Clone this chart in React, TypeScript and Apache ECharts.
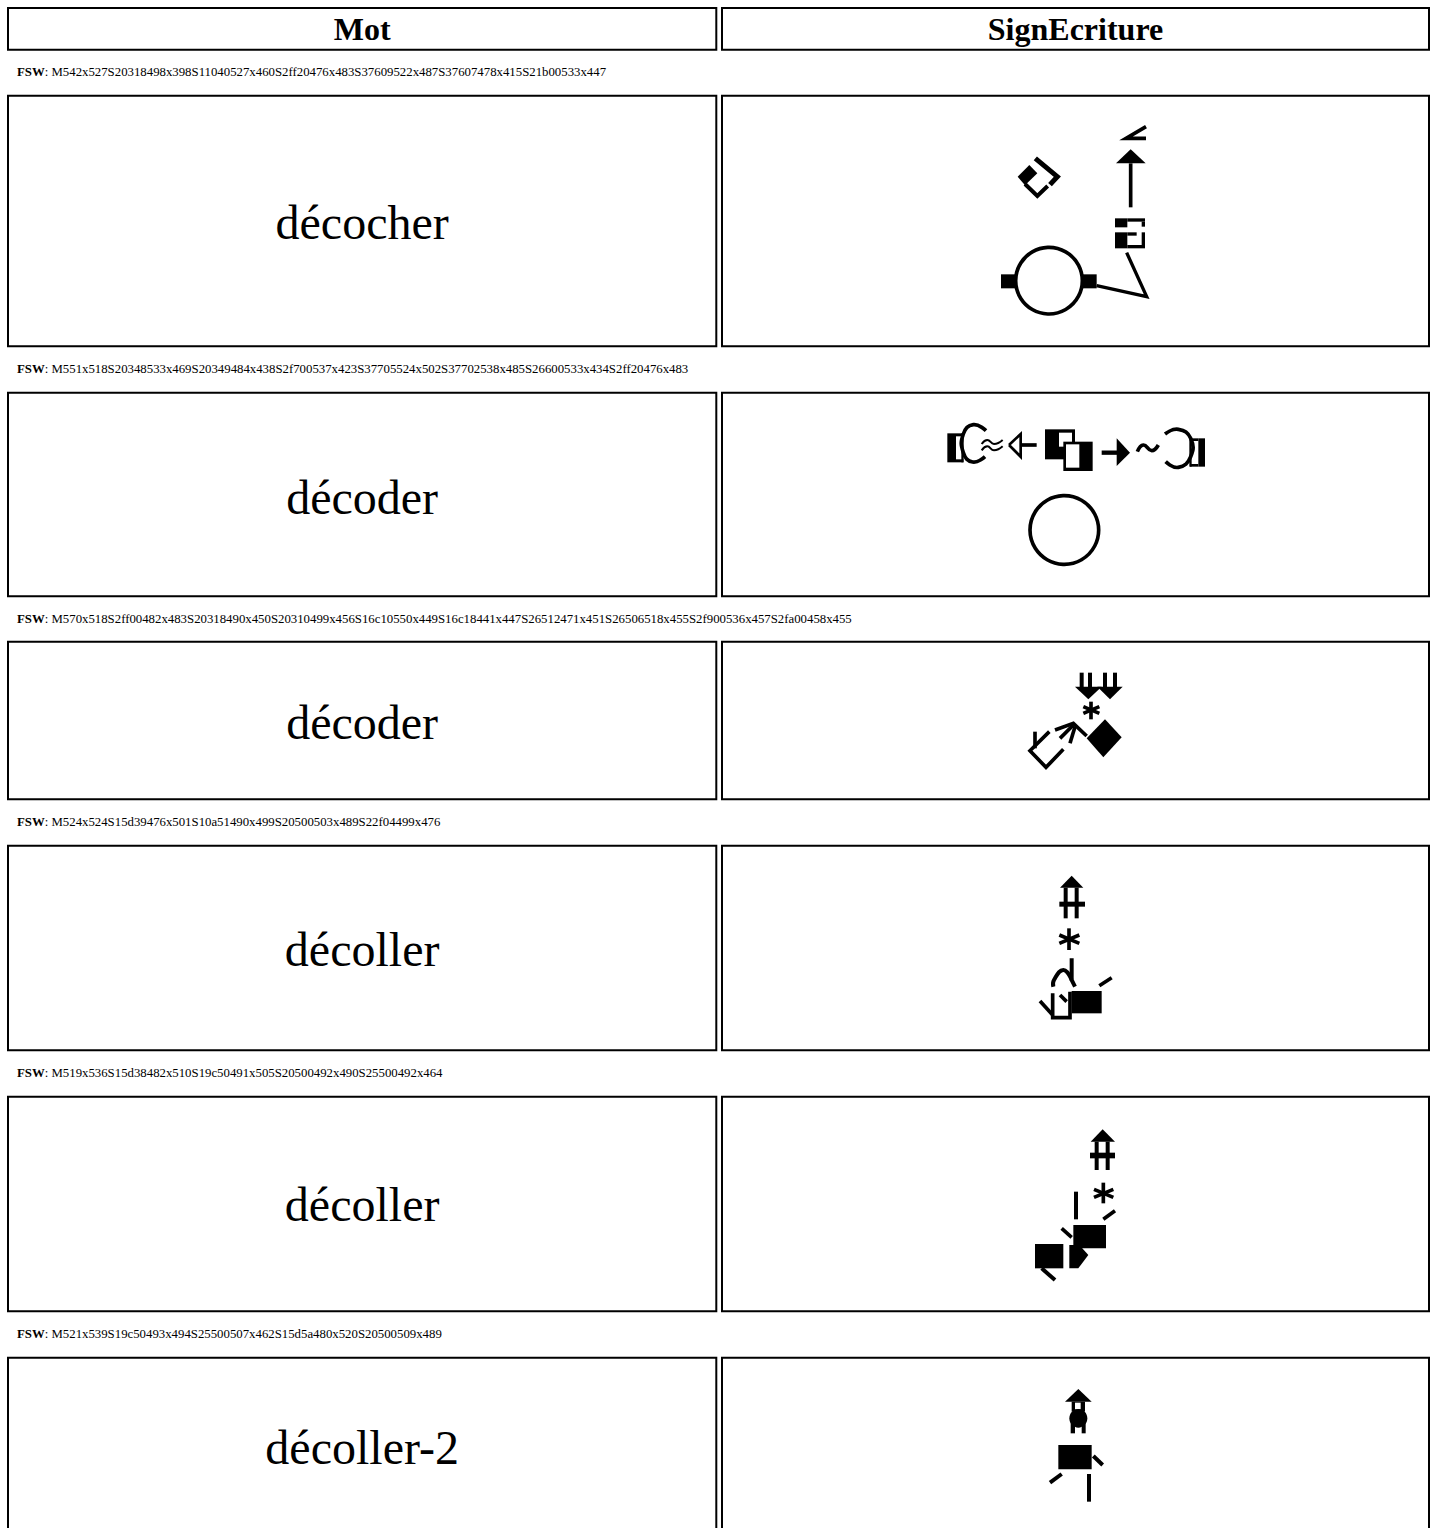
import React, { useEffect, useRef } from "react";
import * as echarts from "echarts";

const headers = ["Mot", "SignEcriture"];
const words = ["décocher", "décoder", "décoder", "décoller", "décoller", "décoller-2"];
const fswCodes = [
  "M542x527S20318498x398S11040527x460S2ff20476x483S37609522x487S37607478x415S21b00533x447",
  "M551x518S20348533x469S20349484x438S2f700537x423S37705524x502S37702538x485S26600533x434S2ff20476x483",
  "M570x518S2ff00482x483S20318490x450S20310499x456S16c10550x449S16c18441x447S26512471x451S26506518x455S2f900536x457S2fa00458x455",
  "M524x524S15d39476x501S10a51490x499S20500503x489S22f04499x476",
  "M519x536S15d38482x510S19c50491x505S20500492x490S25500492x464",
  "M521x539S19c50493x494S25500507x462S15d5a480x520S20500509x489",
];

// page layout
const colX: [number, number][] = [[7, 717.3], [721, 1430]];
const headerY: [number, number] = [7, 50.7];
const rowY: [number, number][] = [[94.7, 347.3], [391.7, 597.3], [640.7, 800.3], [844.7, 1051.3], [1095.7, 1312.3], [1356.7, 1560]];
const fswY = [72, 369, 619, 822, 1073, 1334];
const wordY = [222, 497, 722, 949, 1204, 1447];
const serif = '"Liberation Serif", "Times New Roman", serif';

type Op =
  | ["P", number[][]]
  | ["L", number[][], number]
  | ["S", number[][], number]
  | ["R", number, number, number, number, string?]
  | ["C", number, number, number, number]
  | ["E", number, number, number, number];

// SignWriting symbols, traced in 3x crop units from each origin
const glyphs: { o: [number, number]; ops: Op[] }[] = [
  {
    o: [980, 110],
    ops: [
      ["P", [[113, 200], [148, 165], [172, 190], [135, 226]]],
      ["L", [[166, 145], [232, 200], [210, 224]], 15],
      ["L", [[135, 222], [172, 258], [203, 228]], 12],
      ["L", [[498, 50], [438, 85], [498, 85]], 11],
      ["P", [[408, 160], [452, 118], [497, 160]]],
      ["L", [[452, 160], [452, 292]], 11],
      ["R", 405, 325, 442, 352],
      ["R", 442, 325, 495, 335],
      ["R", 485, 335, 495, 350],
      ["R", 405, 367, 442, 415],
      ["R", 442, 405, 495, 415],
      ["R", 485, 367, 495, 405],
      ["R", 442, 367, 470, 377],
      ["C", 207, 512, 100, 11],
      ["R", 63, 493, 110, 535],
      ["R", 303, 493, 350, 535],
      ["L", [[350, 527], [500, 560], [440, 428]], 10],
    ],
  },
  {
    o: [930, 410],
    ops: [
      ["R", 52, 70, 78, 157],
      ["R", 78, 70, 100, 79],
      ["R", 78, 148, 100, 157],
      ["R", 94, 70, 101, 157],
      ["S", [[168, 62], [130, 44], [100, 72], [100, 128], [128, 156], [165, 140]], 11],
      ["S", [[155, 102], [172, 90], [192, 102], [218, 90]], 6],
      ["S", [[155, 121], [172, 109], [192, 121], [218, 109]], 6],
      ["L", [[237, 105], [272, 72], [272, 140], [237, 105]], 8],
      ["L", [[272, 105], [320, 105]], 11],
      ["R", 345, 58, 435, 148],
      ["R", 387, 68, 426, 110, "#fff"],
      ["R", 400, 95, 488, 183],
      ["R", 408, 103, 448, 173, "#fff"],
      ["L", [[515, 128], [565, 128]], 13],
      ["P", [[560, 85], [600, 128], [560, 168]]],
      ["S", [[622, 125], [640, 105], [665, 122], [685, 105]], 11],
      ["R", 805, 85, 825, 170],
      ["R", 780, 85, 805, 93],
      ["R", 780, 162, 805, 170],
      ["R", 778, 85, 785, 170],
      ["S", [[705, 72], [745, 58], [782, 85], [782, 140], [745, 172], [707, 155]], 11],
      ["C", 403, 360, 103, 11],
    ],
  },
  {
    o: [1010, 660],
    ops: [
      ["L", [[215, 38], [215, 85]], 12],
      ["L", [[240, 38], [240, 85]], 12],
      ["L", [[285, 38], [285, 85]], 12],
      ["L", [[315, 38], [315, 85]], 12],
      ["P", [[195, 80], [275, 80], [235, 118]]],
      ["P", [[262, 80], [338, 80], [300, 118]]],
      ["L", [[243, 125], [243, 178]], 11],
      ["L", [[220, 140], [268, 160]], 11],
      ["L", [[220, 160], [268, 140]], 11],
      ["P", [[285, 178], [335, 232], [280, 292], [230, 235]]],
      ["L", [[118, 215], [60, 272], [108, 322], [160, 268]], 11],
      ["L", [[75, 215], [75, 265]], 11],
      ["L", [[135, 210], [190, 190], [230, 228]], 11],
      ["L", [[150, 235], [190, 195]], 11],
      ["L", [[180, 250], [195, 200]], 11],
    ],
  },
  {
    o: [1020, 865],
    ops: [
      ["P", [[120, 68], [155, 32], [190, 68]]],
      ["L", [[137, 68], [137, 160]], 12],
      ["L", [[170, 68], [170, 160]], 12],
      ["R", 118, 110, 195, 125],
      ["L", [[147, 190], [147, 255]], 11],
      ["L", [[118, 210], [178, 235]], 11],
      ["L", [[118, 235], [178, 210]], 11],
      ["L", [[155, 280], [155, 345], [165, 365]], 12],
      ["S", [[100, 365], [102, 345], [130, 315], [155, 345]], 12],
      ["L", [[60, 408], [98, 450]], 11],
      ["L", [[98, 385], [98, 458], [150, 458], [150, 380]], 11],
      ["L", [[120, 390], [140, 410]], 11],
      ["R", 155, 378, 245, 445],
      ["L", [[238, 362], [275, 338]], 11],
    ],
  },
  {
    o: [1020, 1120],
    ops: [
      ["P", [[212, 65], [248, 28], [285, 65]]],
      ["L", [[230, 65], [230, 150]], 12],
      ["L", [[263, 65], [263, 150]], 12],
      ["R", 210, 98, 285, 115],
      ["L", [[250, 188], [250, 250]], 11],
      ["L", [[222, 208], [280, 232]], 11],
      ["L", [[222, 232], [280, 208]], 11],
      ["L", [[168, 215], [168, 298]], 12],
      ["L", [[250, 298], [285, 272]], 11],
      ["L", [[125, 325], [155, 352]], 11],
      ["R", 160, 315, 258, 385],
      ["R", 45, 372, 130, 445],
      ["L", [[65, 445], [105, 480]], 12],
      ["P", [[148, 375], [178, 375], [205, 405], [175, 445], [148, 445]]],
    ],
  },
  {
    o: [1030, 1380],
    ops: [
      ["P", [[105, 65], [145, 27], [185, 65]]],
      ["R", 125, 65, 165, 95],
      ["R", 135, 68, 152, 88, "#fff"],
      ["E", 145, 115, 27, 28],
      ["R", 122, 120, 135, 160],
      ["R", 155, 120, 167, 160],
      ["R", 85, 195, 185, 268],
      ["L", [[190, 228], [218, 255]], 12],
      ["L", [[60, 308], [95, 282]], 12],
      ["L", [[177, 282], [177, 365]], 12],
    ],
  },
];

function cell(x: [number, number], y: [number, number]) {
  return {
    type: "rect",
    shape: { x: x[0] + 1, y: y[0] + 1, width: x[1] - x[0] - 2, height: y[1] - y[0] - 2 },
    style: { fill: "none", stroke: "#000", lineWidth: 2 },
  };
}

function glyphElements(g: { o: [number, number]; ops: Op[] }) {
  const k = 1 / 3;
  const px = (p: number[]) => [g.o[0] + p[0] * k, g.o[1] + p[1] * k];
  return g.ops.map((op) => {
    if (op[0] === "P") {
      return { type: "polygon", shape: { points: op[1].map(px) }, style: { fill: "#000" } };
    }
    if (op[0] === "L" || op[0] === "S") {
      return {
        type: "polyline",
        shape: { points: op[1].map(px), smooth: op[0] === "S" ? 0.5 : 0 },
        style: { fill: "none", stroke: "#000", lineWidth: op[2] * k },
      };
    }
    if (op[0] === "R") {
      const a = px([op[1], op[2]]);
      const b = px([op[3], op[4]]);
      return {
        type: "rect",
        shape: { x: a[0], y: a[1], width: b[0] - a[0], height: b[1] - a[1] },
        style: { fill: op[5] ?? "#000" },
      };
    }
    if (op[0] === "C") {
      const c = px([op[1], op[2]]);
      return {
        type: "circle",
        shape: { cx: c[0], cy: c[1], r: op[3] * k },
        style: { fill: "none", stroke: "#000", lineWidth: op[4] * k },
      };
    }
    const c = px([op[1], op[2]]);
    return {
      type: "ellipse",
      shape: { cx: c[0], cy: c[1], rx: op[3] * k, ry: op[4] * k },
      style: { fill: "#000" },
    };
  });
}

function buildGraphic() {
  const els: any[] = [];
  headers.forEach((h, i) => {
    els.push(cell(colX[i], headerY));
    els.push({
      type: "text",
      x: (colX[i][0] + colX[i][1]) / 2,
      y: 29,
      style: { text: h, font: `bold 32px ${serif}`, fill: "#000", align: "center", verticalAlign: "middle" },
    });
  });
  words.forEach((w, i) => {
    els.push({
      type: "text",
      x: 17,
      y: fswY[i],
      style: { text: "FSW", font: `bold 12.8px ${serif}`, fill: "#000", align: "left", verticalAlign: "middle" },
    });
    els.push({
      type: "text",
      x: 44.7,
      y: fswY[i],
      style: { text: ": " + fswCodes[i], font: `12.8px ${serif}`, fill: "#000", align: "left", verticalAlign: "middle" },
    });
    els.push(cell(colX[0], rowY[i]));
    els.push(cell(colX[1], rowY[i]));
    els.push({
      type: "text",
      x: (colX[0][0] + colX[0][1]) / 2,
      y: wordY[i],
      style: { text: w, font: `48px ${serif}`, fill: "#000", align: "center", verticalAlign: "middle" },
    });
    els.push(...glyphElements(glyphs[i]));
  });
  return els;
}

export default function App() {
  const ref = useRef<HTMLDivElement>(null);
  useEffect(() => {
    const chart = echarts.init(ref.current!, undefined, { renderer: "svg" });
    chart.setOption({ animation: false, backgroundColor: "#fff", graphic: { elements: buildGraphic() } });
    return () => chart.dispose();
  }, []);
  return <div ref={ref} style={{ position: "absolute", left: 0, top: 0, width: 1435, height: 1528 }} />;
}
